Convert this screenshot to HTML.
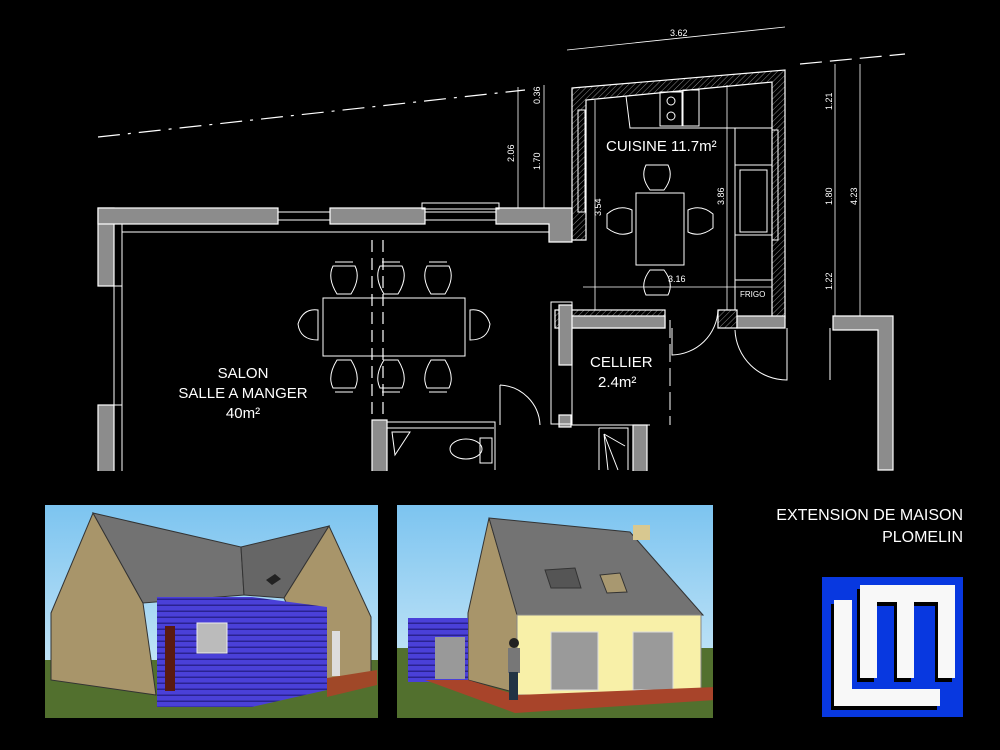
<!DOCTYPE html>
<html><head><meta charset="utf-8"><style>
html,body{margin:0;padding:0;background:#000;width:1000px;height:750px;overflow:hidden}
svg{display:block}
text{font-family:"Liberation Sans","DejaVu Sans",sans-serif}
</style></head><body>
<svg width="1000" height="750" viewBox="0 0 1000 750" xmlns="http://www.w3.org/2000/svg">
<defs>
<pattern id="h" width="4" height="4" patternUnits="userSpaceOnUse" patternTransform="rotate(45)"><line x1="0" y1="0" x2="0" y2="4" stroke="#888" stroke-width="1"/></pattern>
<linearGradient id="sky" x1="0" y1="0" x2="0" y2="1"><stop offset="0" stop-color="#7cc4f0"/><stop offset="1" stop-color="#d8eef8"/></linearGradient>
<pattern id="cl" width="10" height="6" patternUnits="userSpaceOnUse"><rect width="10" height="6" fill="#4a40d8"/><rect y="4.5" width="10" height="1.5" fill="#2a2290"/></pattern>
</defs>
<rect width="1000" height="750" fill="#000"/>
<g stroke="#fff" fill="none" stroke-width="1.2">
<!-- dashed reference line -->
<line x1="98" y1="137" x2="525" y2="90" stroke-dasharray="22,8,3,8"/>
<line x1="800" y1="64" x2="905" y2="54" stroke-dasharray="22,8"/>
<!-- dimension lines -->
<line x1="567" y1="50" x2="785" y2="27" stroke-width="0.8"/>
<line x1="518" y1="87" x2="518" y2="212" stroke-width="0.8"/>
<line x1="544" y1="85" x2="544" y2="212" stroke-width="0.8"/>
<line x1="835" y1="64" x2="835" y2="318" stroke-width="0.8"/>
<line x1="860" y1="64" x2="860" y2="318" stroke-width="0.8"/>
<line x1="595" y1="100" x2="595" y2="310" stroke-width="0.8"/>
<line x1="727" y1="85" x2="727" y2="310" stroke-width="0.8"/>
<line x1="583" y1="287" x2="772" y2="287" stroke-width="0.8"/>
<line x1="372" y1="240" x2="372" y2="420" stroke-dasharray="12,6"/>
<line x1="383" y1="240" x2="383" y2="420" stroke-dasharray="12,6"/>
</g>
<g fill="#fff" font-size="9">
<text x="670" y="36">3.62</text>
<text transform="translate(514,162) rotate(-90)">2.06</text>
<text transform="translate(540,104) rotate(-90)">0.36</text>
<text transform="translate(540,170) rotate(-90)">1.70</text>
<text transform="translate(832,110) rotate(-90)">1.21</text>
<text transform="translate(832,205) rotate(-90)">1.80</text>
<text transform="translate(832,290) rotate(-90)">1.22</text>
<text transform="translate(857,205) rotate(-90)">4.23</text>
<text transform="translate(601,216) rotate(-90)">3.54</text>
<text transform="translate(724,205) rotate(-90)">3.86</text>
<text x="668" y="282">3.16</text>
<text x="740" y="297" font-size="8">FRIGO</text>
</g>
<!-- walls -->
<g fill="#8c8c8c" stroke="#fff" stroke-width="1.2">
<rect x="98" y="208" width="16" height="78"/>
<rect x="98" y="405" width="16" height="68"/>
<rect x="98" y="208" width="180" height="16"/>
<rect x="330" y="208" width="95" height="16"/>
<path d="M496 208 H572 V242 H549 V224 H496 Z"/>
<path d="M572 88 L785 70 V318 H772 V82 L586 100 V240 H572 Z" fill="url(#h)"/>
<rect x="555" y="310" width="110" height="18" fill="url(#h)"/>
<rect x="560" y="316" width="105" height="12"/>
<rect x="559" y="305" width="13" height="60"/>
<rect x="718" y="310" width="19" height="18" fill="url(#h)"/>
<rect x="737" y="316" width="48" height="12"/>
<path d="M833 316 H893 V470 H878 V330 H833 Z"/>
<rect x="372" y="420" width="15" height="53"/>
<rect x="559" y="415" width="12" height="12"/>
<rect x="633" y="425" width="14" height="48"/>
</g>
<g stroke="#fff" fill="none" stroke-width="1">
<rect x="114" y="286" width="8" height="119"/>
<line x1="122" y1="224" x2="122" y2="473"/><line x1="122" y1="232" x2="549" y2="232"/>
<rect x="278" y="212" width="52" height="8"/><rect x="425" y="212" width="71" height="8"/><rect x="422" y="203" width="77" height="6"/>
<rect x="578" y="110" width="7" height="102"/>
<rect x="772" y="130" width="6" height="110"/>
<path d="M626 96 L630 128 H772 M735 128 V310 M735 165 H772 M735 235 H772 M735 280 H772"/>
<rect x="660" y="92" width="22" height="34"/><rect x="683" y="90" width="16" height="36"/>
<circle cx="671" cy="101" r="4"/><circle cx="671" cy="116" r="4"/>
<rect x="740" y="170" width="27" height="62"/>
<rect x="636" y="193" width="48" height="72"/>
<path d="M646 165 q-6 12 4 25 h14 q10 -13 4 -25 z"/>
<path d="M646 295 q-6 -12 4 -25 h14 q10 13 4 25 z"/>
<path d="M632 210 q-13 -6 -25 4 v14 q13 10 25 4 z"/>
<path d="M688 210 q13 -6 25 4 v14 q-13 10 -25 4 z"/>
<rect x="323" y="298" width="142" height="58"/>
<g id="ch"><path d="M333 266 q-6 12 4 28 h14 q10 -16 4 -28 z"/><path d="M335 262 h18"/></g>
<use href="#ch" x="47"/><use href="#ch" x="94"/>
<g id="cb"><path d="M333 388 q-6 -12 4 -28 h14 q10 16 4 28 z"/><path d="M335 392 h18"/></g>
<use href="#cb" x="47"/><use href="#cb" x="94"/>
<path d="M318 310 q-15 -2 -20 14 q2 16 20 16 z"/><path d="M470 310 q15 -2 20 14 q-2 16 -20 16 z"/>
<rect x="551" y="302" width="21" height="122"/>
<line x1="670" y1="320" x2="670" y2="425" stroke-dasharray="18,6"/>
<path d="M672 328 V355 A47 47 0 0 0 718 310"/>
<path d="M787 328 V380 A52 52 0 0 1 735 330 M830 328 V380"/>
<path d="M500 385 V425 M500 385 A42 42 0 0 1 540 425"/>
<path d="M387 422 H495 V470 M387 428 H494"/>
<path d="M392 432 H410 L395 455 Z"/>
<ellipse cx="466" cy="449" rx="16" ry="10"/><rect x="480" y="438" width="12" height="25"/>
<path d="M571 425 H650 M599 428 H628 V470 M599 428 V470"/>
<path d="M604 434 L625 446 M604 434 L618 470 M604 434 L608 470"/>
</g>
<g fill="#fff" font-size="15">
<text x="606" y="151">CUISINE 11.7m²</text>
<text x="590" y="367">CELLIER</text>
<text x="598" y="387">2.4m²</text>
<text x="243" y="378" text-anchor="middle">SALON</text>
<text x="243" y="398" text-anchor="middle">SALLE A MANGER</text>
<text x="243" y="418" text-anchor="middle">40m²</text>
</g>
<rect x="0" y="471" width="1000" height="30" fill="#000"/>
<!-- photo 1 -->
<svg x="45" y="505" width="333" height="213" viewBox="45 505 333 213">
<rect x="45" y="505" width="333" height="213" fill="url(#sky)"/>
<rect x="45" y="660" width="333" height="60" fill="#52702e"/>
<path d="M51 613 L93 513 L143 603 L156 695 L51 680 Z" fill="#a8956a" stroke="#333"/>
<path d="M93 513 L241 547 L244 595 L143 603 Z" fill="#727272" stroke="#333"/>
<path d="M241 547 L329 526 L284 598 L244 595 Z" fill="#666" stroke="#333"/>
<path d="M329 526 L371 617 L371 678 L329 693 L284 598 Z" fill="#a8956a" stroke="#333"/>
<path d="M327 678 L377 670 L377 685 L327 697 Z" fill="#a04828"/>
<rect x="157" y="597" width="95" height="110" fill="url(#cl)"/>
<path d="M252 597 L327 607 L327 690 L252 707 Z" fill="url(#cl)"/>
<rect x="165" y="626" width="10" height="65" fill="#5a1a10"/>
<rect x="197" y="623" width="30" height="30" fill="#bbb" stroke="#eee"/>
<rect x="332" y="631" width="8" height="45" fill="#ddd"/>
<path d="M266 580 l9 -6 l6 5 l-9 6z" fill="#222"/>
</svg>
<!-- photo 2 -->
<svg x="397" y="505" width="316" height="213" viewBox="397 505 316 213">
<rect x="397" y="505" width="316" height="213" fill="url(#sky)"/>
<rect x="397" y="648" width="316" height="70" fill="#52702e"/>
<path d="M468 613 L489 518 L517 613 L517 693 L468 680 Z" fill="#a8956a" stroke="#333"/>
<path d="M489 518 L630 532 L703 615 L517 615 Z" fill="#737373" stroke="#333"/>
<rect x="633" y="525" width="17" height="15" fill="#d8c890"/>
<rect x="517" y="615" width="184" height="80" fill="#f8f0a8" stroke="#888"/>
<rect x="551" y="632" width="47" height="58" fill="#9a9a9a" stroke="#ddd"/>
<rect x="633" y="632" width="40" height="58" fill="#9a9a9a" stroke="#ddd"/>
<path d="M545 570 L575 568 L581 588 L551 588 Z" fill="#555" stroke="#333"/>
<path d="M600 575 L620 573 L627 592 L607 593 Z" fill="#a89870" stroke="#333"/>
<rect x="408" y="618" width="60" height="64" fill="url(#cl)"/>
<rect x="435" y="637" width="30" height="42" fill="#999"/>
<path d="M425 680 L515 713 L715 700 L715 687 L517 695 L468 680 Z" fill="#a8442a"/>
<rect x="508" y="648" width="12" height="25" fill="#777"/><rect x="509" y="672" width="9" height="28" fill="#234"/><circle cx="514" cy="643" r="5" fill="#222"/>
</svg>
<!-- title -->
<g fill="#fff" font-size="16" text-anchor="end">
<text x="963" y="520">EXTENSION DE MAISON</text>
<text x="963" y="542">PLOMELIN</text>
</g>
<!-- logo -->
<rect x="822" y="577" width="141" height="140" fill="#0838e0"/>
<g fill="#000">
<rect x="831" y="604" width="18" height="106"/><rect x="831" y="693" width="106" height="17"/>
<path d="M857 589 H952 V682 H935 V606 H911 V682 H894 V606 H874 V682 H857 Z"/>
</g>
<g fill="#f8f8f8">
<rect x="834" y="600" width="18" height="106"/><rect x="834" y="689" width="106" height="17"/>
<path d="M860 585 H955 V678 H938 V602 H914 V678 H897 V602 H877 V678 H860 Z"/>
</g>
</svg>
</body></html>
